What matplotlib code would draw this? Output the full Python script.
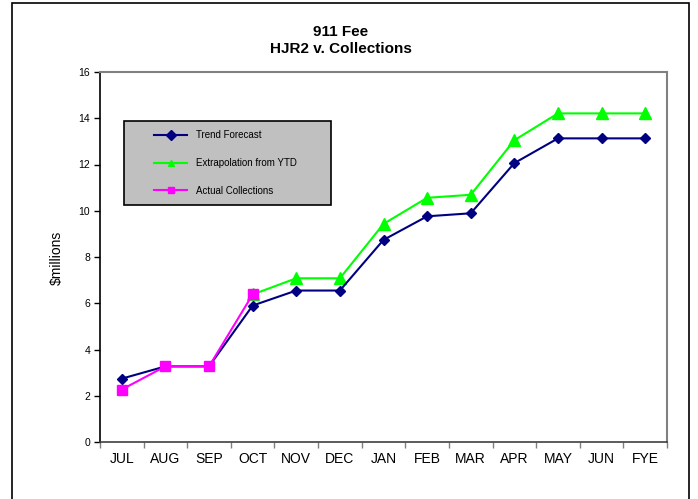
import matplotlib
matplotlib.use("Agg")
import matplotlib.pyplot as plt
import numpy as np
from matplotlib.patches import Rectangle

plt.rcParams['font.family'] = ['Liberation Sans', 'DejaVu Sans']

months = ["JUL", "AUG", "SEP", "OCT", "NOV", "DEC", "JAN", "FEB", "MAR", "APR", "MAY", "JUN", "FYE"]
trend = [2.74, 3.27, 3.27, 5.9, 6.55, 6.55, 8.74, 9.76, 9.89, 12.06, 13.13, 13.13, 13.13]
extrap = [np.nan, np.nan, np.nan, 6.38, 7.08, 7.08, 9.43, 10.56, 10.69, 13.05, 14.21, 14.21, 14.21]
actual = [2.27, 3.27, 3.27, 6.38, np.nan, np.nan, np.nan, np.nan, np.nan, np.nan, np.nan, np.nan, np.nan]

fig = plt.figure(figsize=(6.98, 4.99), dpi=100)
AX_L, AX_R, AX_T, AX_B = 100, 667, 72, 442
ax = fig.add_axes([AX_L/698, (499-AX_B)/499, (AX_R-AX_L)/698, (AX_B-AX_T)/499])

x = np.arange(len(months))
ax.plot(x, trend, color="#000080", lw=1.5, marker="D", ms=5.5, label="Trend Forecast", zorder=3)
ax.plot(x, extrap, color="#00FF00", lw=1.5, marker="^", ms=8, label="Extrapolation from YTD", zorder=2)
ax.plot(x, actual, color="#FF00FF", lw=1.5, marker="s", ms=7.5, label="Actual Collections", zorder=4)

ax.set_xlim(-0.5, len(months) - 0.5)
ax.set_ylim(0, 16)
ax.set_yticks(np.arange(0, 17, 2))
ax.tick_params(axis='y', labelsize=7.5, length=4, width=1, direction='out', pad=3)
ax.set_xticks(np.arange(-0.5, len(months), 1.0))
ax.set_xticklabels([])
ax.set_xticks(x, minor=True)
ax.set_xticklabels(months, minor=True, fontsize=10)
ax.tick_params(axis='x', which='major', length=4, width=1, direction='out', color='#808080')
ax.tick_params(axis='x', which='minor', length=0, pad=7)

for side in ['top', 'right']:
    ax.spines[side].set_color('#808080')
    ax.spines[side].set_linewidth(1.5)
ax.spines['left'].set_color('black')
ax.spines['bottom'].set_color('#404040')
ax.spines['left'].set_linewidth(1.2)
ax.spines['bottom'].set_linewidth(1.2)

fig.text(57/698, 1 - 258/499, "$millions", rotation=90, ha='center', va='center', fontsize=10)

fig.text(341/698, 1 - 32/499, "911 Fee", ha='center', va='center', fontsize=11, fontweight='bold')
fig.text(341/698, 1 - 49/499, "HJR2 v. Collections", ha='center', va='center', fontsize=11, fontweight='bold')

# legend box
W, H = AX_R - AX_L, AX_B - AX_T
ax.add_patch(Rectangle(((124-AX_L)/W, (AX_B-205)/H), (331-124)/W, (205-121)/H, transform=ax.transAxes,
                       facecolor='#C0C0C0', edgecolor='black', lw=1.2, zorder=5))
leg = ax.legend(loc='center left', bbox_to_anchor=((154-AX_L)/W, (AX_B-163)/H),
                fontsize=7, frameon=False, handlelength=3.4, handletextpad=0.9,
                labelspacing=1.8, borderpad=0, borderaxespad=0)
leg.set_zorder(6)
for h in leg.legend_handles:
    h.set_markersize(5)

fig.patches.append(Rectangle((12/698, -0.05), (689-12)/698, 1.05 - 3/499, transform=fig.transFigure,
                             fill=False, edgecolor='black', lw=1.2))

fig.savefig("out.png", dpi=100)
